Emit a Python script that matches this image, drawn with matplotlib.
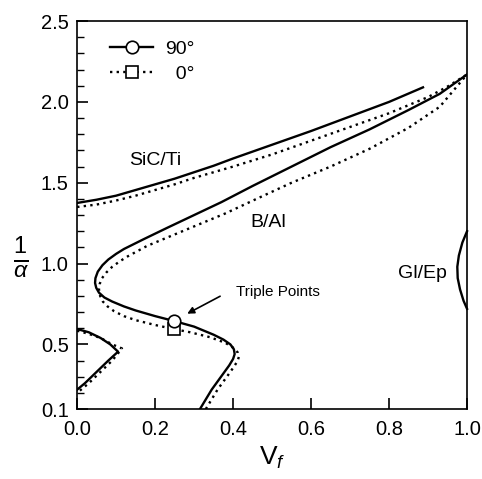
import matplotlib
matplotlib.use("Agg")
import matplotlib.pyplot as plt
import numpy as np

plt.rcParams['font.family'] = ['Liberation Sans', 'DejaVu Sans']
plt.rcParams['mathtext.fontset'] = 'custom'
plt.rcParams['mathtext.rm'] = 'Liberation Sans'
plt.rcParams['mathtext.it'] = 'Liberation Sans:italic'

# ---- data ----
sic_90_x = [0, 0.05, 0.1, 0.15, 0.2, 0.25, 0.3, 0.35, 0.4, 0.5, 0.6, 0.7, 0.8, 0.887]
sic_90_y = [1.375, 1.395, 1.42, 1.455, 1.49, 1.525, 1.565, 1.605, 1.65, 1.735, 1.82, 1.91, 2.0, 2.09]
sic_0_x = [0, 0.05, 0.1, 0.15, 0.2, 0.25, 0.3, 0.35, 0.4, 0.5, 0.6, 0.7, 0.8, 0.9, 0.95, 1.0]
sic_0_y = [1.35, 1.365, 1.39, 1.42, 1.455, 1.49, 1.53, 1.565, 1.60, 1.675, 1.76, 1.845, 1.93, 2.03, 2.095, 2.17]

bal_90_x = [0.315, 0.33, 0.345, 0.36, 0.375, 0.39, 0.40, 0.404, 0.402, 0.393, 0.375, 0.35, 0.30,
            0.248, 0.20, 0.15, 0.12, 0.09, 0.07, 0.056, 0.049, 0.046, 0.047, 0.053, 0.065,
            0.08, 0.10, 0.12, 0.17, 0.23, 0.30, 0.37, 0.45, 0.55, 0.65, 0.75, 0.85, 0.93, 1.0]
bal_90_y = [0.10, 0.16, 0.22, 0.27, 0.32, 0.37, 0.41, 0.44, 0.47, 0.50, 0.53, 0.56, 0.61,
            0.645, 0.675, 0.71, 0.735, 0.765, 0.79, 0.82, 0.85, 0.88, 0.91, 0.95, 0.99,
            1.025, 1.06, 1.09, 1.15, 1.22, 1.30, 1.38, 1.48, 1.60, 1.72, 1.83, 1.95, 2.05, 2.17]
bal_0_x = [0.33, 0.345, 0.36, 0.375, 0.39, 0.403, 0.412, 0.415, 0.412, 0.40, 0.38, 0.34, 0.29,
           0.248, 0.20, 0.15, 0.12, 0.095, 0.078, 0.066, 0.059, 0.056, 0.058, 0.064, 0.075,
           0.09, 0.11, 0.13, 0.18, 0.24, 0.31, 0.38, 0.46, 0.55, 0.65, 0.75, 0.85, 0.93, 1.0]
bal_0_y = [0.10, 0.16, 0.22, 0.27, 0.32, 0.365, 0.40, 0.425, 0.45, 0.48, 0.51, 0.545, 0.575,
           0.595, 0.62, 0.65, 0.675, 0.705, 0.735, 0.765, 0.80, 0.84, 0.875, 0.91, 0.945,
           0.98, 1.015, 1.045, 1.11, 1.17, 1.24, 1.31, 1.40, 1.50, 1.60, 1.71, 1.84, 1.97, 2.17]

lobe_90_x = [0, 0.03, 0.06, 0.085, 0.105, 0.08, 0.05, 0.02, 0]
lobe_90_y = [0.595, 0.575, 0.54, 0.50, 0.455, 0.40, 0.33, 0.26, 0.22]
lobe_0_x = [0, 0.03, 0.06, 0.09, 0.115, 0.09, 0.06, 0.03, 0]
lobe_0_y = [0.585, 0.565, 0.54, 0.50, 0.475, 0.40, 0.33, 0.26, 0.20]

glep_90_x = [1.0, 0.988, 0.979, 0.975, 0.976, 0.982, 0.991, 1.0]
glep_90_y = [1.20, 1.13, 1.05, 0.98, 0.91, 0.84, 0.77, 0.72]

triple_x = [0.248]
triple_90_y = [0.645]
triple_0_y = [0.595]

legend_labels = ["90°", "  0°"]
xticks = [0.0, 0.2, 0.4, 0.6, 0.8, 1.0]
xticklabels = ["0.0", "0.2", "0.4", "0.6", "0.8", "1.0"]
yticks = [0.1, 0.5, 1.0, 1.5, 2.0, 2.5]
yticklabels = ["0.1", "0.5", "1.0", "1.5", "2.0", "2.5"]

# ---- figure ----
fig = plt.figure(figsize=(4.82, 4.79), dpi=100)
ax = fig.add_axes([0.16, 0.146, 0.809, 0.81])

solid = dict(color='black', lw=1.7, ls='-', solid_joinstyle='round')
dot = dict(color='black', lw=1.7, ls=(0, (1, 1.8)))

ax.plot(sic_90_x, sic_90_y, **solid)
ax.plot(sic_0_x, sic_0_y, **dot)
ax.plot(bal_90_x, bal_90_y, **solid)
ax.plot(bal_0_x, bal_0_y, **dot)
ax.plot(lobe_90_x, lobe_90_y, **solid)
ax.plot(lobe_0_x, lobe_0_y, **dot)
ax.plot(glep_90_x, glep_90_y, **solid, clip_on=False)

ax.plot(triple_x, triple_90_y, 'o', ms=9, mfc='white', mec='black', mew=1.2, zorder=5)
ax.plot(triple_x, triple_0_y, 's', ms=8, mfc='white', mec='black', mew=1.2, zorder=4)

# legend
h1, = ax.plot([], [], marker='o', ms=9, mfc='white', mec='black', mew=1.2, **solid)
h2, = ax.plot([], [], marker='s', ms=8, mfc='white', mec='black', mew=1.2, **dot)
leg = ax.legend([h1, h2], legend_labels, loc='upper left', frameon=False,
                fontsize=14, handlelength=2.2, borderaxespad=0.3,
                bbox_to_anchor=(0.05, 0.985), handletextpad=0.6, labelspacing=0.35)

# labels
ax.text(0.2, 1.64, "SiC/Ti", fontsize=14, ha='center', va='center')
ax.text(0.49, 1.257, "B/Al", fontsize=14, ha='center', va='center')
ax.text(0.885, 0.94, "Gl/Ep", fontsize=14, ha='center', va='center')
ax.text(0.515, 0.825, "Triple Points", fontsize=11, ha='center', va='center')
ax.annotate("", xy=(0.276, 0.682), xytext=(0.373, 0.806),
            arrowprops=dict(arrowstyle='-|>', color='black', lw=1.2, mutation_scale=10))

ax.set_xlim(0, 1.0)
ax.set_ylim(0.1, 2.5)
ax.set_xticks(xticks)
ax.set_xticklabels(xticklabels)
ax.set_yticks(yticks)
ax.set_yticklabels(yticklabels)
ax.set_yticks(np.round(np.arange(0.2, 2.45, 0.1), 2), minor=True)
ax.tick_params(axis='both', which='major', direction='in', length=8, width=1.2,
               labelsize=14.5)
ax.tick_params(axis='x', which='major', pad=8)
ax.tick_params(axis='y', which='major', pad=6)
ax.tick_params(axis='y', which='minor', direction='in', length=5, width=1.0)
for s in ax.spines.values():
    s.set_linewidth(1.2)

ax.set_xlabel(r"V$_{f}$", fontsize=19, labelpad=4)
ax.set_ylabel(r"$\frac{1}{\alpha}$", fontsize=24, rotation=0, va='center', ha='center')
ax.yaxis.set_label_coords(-0.145, 0.39)

fig.savefig("out.png", dpi=100)
